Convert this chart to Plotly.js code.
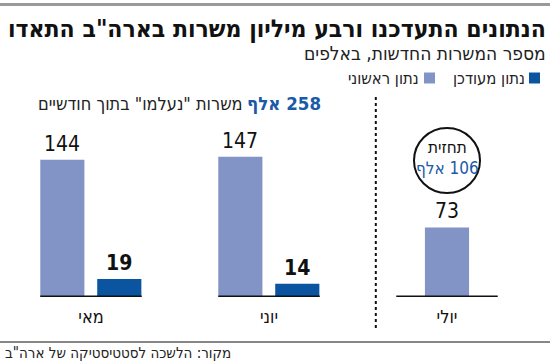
<!DOCTYPE html>
<html><head><meta charset="utf-8">
<script src="https://cdn.plot.ly/plotly-3.0.1.min.js"></script>
<style>html,body{margin:0;padding:0;background:#fff;overflow:hidden}</style>
</head><body><div id="chart" style="width:550px;height:364px"></div>
<script>
// ---- data ----
const months = ['מאי', 'יוני', 'יולי'];
const preliminary = [144, 147, 73];
const updated = [19, 14, null];
const seriesNames = ['נתון ראשוני', 'נתון מעודכן'];
const titleText = 'הנתונים התעדכנו ורבע מיליון משרות בארה"ב התאדו';
const subtitleText = 'מספר המשרות החדשות, באלפים';
const vanishedTotal = 258;
const vanishedText = 'משרות "נעלמו" בתוך חודשיים';
const forecastValue = 106;
const forecastLabel = 'תחזית';
const thousandWord = 'אלף';
const sourceText = 'מקור: הלשכה לסטטיסטיקה של ארה"ב';

// ---- style ----
const FONT = '"DejaVu Sans Condensed", "Liberation Sans Narrow", sans-serif';
const LIGHT = '#8294c6';
const DARK = '#0a54a0';
const BLUE_TXT = '#1a5aa8';
const W = 0.248;
const PAIR_OFF = -0.285;
const GAP = 0.035;

const rtl = s => '\u202B' + s + '\u202C';

const M = {l: 2, r: 14, t: 154, b: 67};
const PW = 550 - M.l - M.r, PH = 364 - M.t - M.b;
const px = x => (x - M.l) / PW;
const py = y => (364 - M.b - y) / PH;

const lightOff = updated.map(v => v == null ? -W / 2 : PAIR_OFF);

const traces = [
  {type: 'bar', name: seriesNames[0], x: months, y: preliminary,
   width: W, offset: lightOff, marker: {color: LIGHT}, hoverinfo: 'none'},
  {type: 'bar', name: seriesNames[1], x: months, y: updated,
   width: W, offset: GAP, marker: {color: DARK}, hoverinfo: 'none'}
];

const ann = [];
const shapes = [];
function txt(text, x, y, size, opts) {
  ann.push(Object.assign({text: rtl(text), x: px(x), y: py(y), xref: 'paper', yref: 'paper',
    xanchor: 'right', yanchor: 'middle', showarrow: false,
    font: {family: FONT, size: size, color: '#111'}}, opts || {}));
}
function line(x0, y0, x1, y1, color, width, dash) {
  shapes.push({type: 'line', xref: 'paper', yref: 'paper', x0: px(x0), x1: px(x1), y0: py(y0), y1: py(y1),
    line: {color: color, width: width, dash: dash || 'solid'}});
}

// header
line(0, 4.5, 550, 4.5, '#9a9a9a', 3);
txt(titleText, 548, 28, 24.5, {font: {family: FONT, size: 24.5, color: '#111', weight: 'bold'}});
txt(subtitleText, 548, 53, 19, {font: {family: FONT, size: 19, color: '#222'}});

// legend
shapes.push({type: 'rect', xref: 'paper', yref: 'paper', x0: px(529), x1: px(540), y0: py(83.5), y1: py(72.5),
  fillcolor: DARK, line: {width: 0}});
txt(seriesNames[1], 527, 78, 16.5, {font: {family: FONT, size: 16.5, color: '#222'}});
shapes.push({type: 'rect', xref: 'paper', yref: 'paper', x0: px(424), x1: px(435), y0: py(83.5), y1: py(72.5),
  fillcolor: LIGHT, line: {width: 0}});
txt(seriesNames[0], 421, 78, 16.5, {font: {family: FONT, size: 16.5, color: '#222'}});

// 258 thousand note
txt(vanishedTotal + ' ' + thousandWord, 323, 103, 18.5, {font: {family: FONT, size: 18.5, color: BLUE_TXT, weight: 'bold'}});
txt(vanishedText, 245, 103, 18, {font: {family: FONT, size: 18, color: '#222'}});

// forecast circle
shapes.push({type: 'circle', xref: 'paper', yref: 'paper', x0: px(414), x1: px(480), y0: py(193), y1: py(128),
  line: {color: '#111', width: 2}});
txt(forecastLabel, 447, 147, 17, {xanchor: 'center', font: {family: FONT, size: 17, color: '#111'}});
txt(forecastValue + ' ' + thousandWord, 447, 168, 17, {xanchor: 'center', font: {family: FONT, size: 17, color: BLUE_TXT}});

// separator dotted line
shapes.push({type: 'line', xref: 'x', yref: 'paper', x0: 1.6, x1: 1.6, y0: py(97), y1: py(330),
  line: {color: '#111', width: 2, dash: 'dot'}});

// baselines
months.forEach((m, i) => {
  shapes.push({type: 'line', xref: 'x', yref: 'y', x0: i + PAIR_OFF, x1: i - PAIR_OFF, y0: 0, y1: 0,
    line: {color: '#111', width: 3}});
});

// value labels
months.forEach((m, i) => {
  ann.push({x: i + lightOff[i] + W / 2, y: preliminary[i], xref: 'x', yref: 'y', text: String(preliminary[i]),
    showarrow: false, yanchor: 'bottom', yshift: 2, font: {family: FONT, size: 21, color: '#111'}});
  if (updated[i] != null) {
    ann.push({x: i + GAP + W / 2, y: updated[i], xref: 'x', yref: 'y', text: String(updated[i]),
      showarrow: false, yanchor: 'bottom', yshift: 2, font: {family: FONT, size: 21, color: '#111', weight: 'bold'}});
  }
});

// footer
line(0, 342, 550, 342, '#111', 1);
ann.push({text: rtl(sourceText), x: px(3), y: py(353), xref: 'paper', yref: 'paper', xanchor: 'left', yanchor: 'middle',
  showarrow: false, font: {family: FONT, size: 15, color: '#222'}});

const layout = {
  width: 550, height: 364, margin: M, paper_bgcolor: '#fff', plot_bgcolor: '#fff',
  barmode: 'overlay', showlegend: false,
  xaxis: {type: 'category', range: [-0.5, 2.5], showgrid: false, zeroline: false, showline: false,
    ticks: '', tickfont: {family: FONT, size: 18, color: '#111'}, ticklabelstandoff: 7, fixedrange: true},
  yaxis: {range: [0, 150], visible: false, fixedrange: true},
  annotations: ann, shapes: shapes
};
Plotly.newPlot('chart', traces, layout, {staticPlot: true, displayModeBar: false});
</script></body></html>
